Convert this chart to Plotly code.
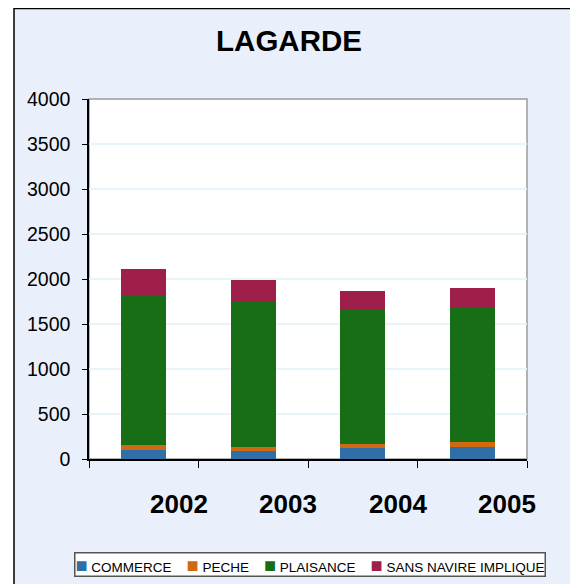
import plotly.graph_objects as go

# values
years = ["2002", "2003", "2004", "2005"]
commerce = [100, 90, 120, 130]
peche = [55, 45, 50, 60]
plaisance = [1667, 1620, 1485, 1490]
sans_navire = [289, 235, 210, 225]
y_ticks = [0, 500, 1000, 1500, 2000, 2500, 3000, 3500, 4000]

series = [
    ("COMMERCE", commerce, "#2f6ea6"),
    ("PECHE", peche, "#cf6a12"),
    ("PLAISANCE", plaisance, "#176e17"),
    ("SANS NAVIRE IMPLIQUE", sans_navire, "#9f1f4b"),
]

fig = go.Figure()
for name, vals, col in series:
    fig.add_trace(go.Bar(x=years, y=vals, name=name, width=0.41, showlegend=False,
                         marker=dict(color=col, line=dict(width=0))))

# x labels sit to the right of each bar in the original
for i, yr in enumerate(years):
    fig.add_annotation(x=i, y=-0.125, xref="x", yref="paper", text="<b>%s</b>" % yr,
                       showarrow=False, xshift=35, yanchor="middle",
                       font=dict(size=26, color="black"))

# boxed legend on one line, like the original
legend_txt = "&nbsp;&nbsp;&nbsp;&nbsp;".join(
    '<span style="color:%s;font-size:20px">■</span>&nbsp;%s' % (col, name)
    for name, vals, col in series)
fig.add_annotation(x=0.5046, y=-0.2944, xref="paper", yref="paper", text=legend_txt,
                   showarrow=False, xanchor="center", yanchor="middle",
                   bgcolor="white", bordercolor="#555555", borderwidth=1.5, borderpad=0,
                   font=dict(size=13.5, color="black"))

# outer light-blue frame and white plot area
fig.add_shape(type="rect", xref="paper", yref="paper", x0=-0.1712, x1=1.2, y0=-0.4, y1=1.2514,
              fillcolor="#e9f0fc", line=dict(color="black", width=1.5), layer="below")
fig.add_shape(type="rect", xref="paper", yref="paper", x0=0, x1=1, y0=0, y1=1,
              fillcolor="white", line=dict(color="#9a9a9a", width=1.5), layer="below")

fig.update_layout(
    width=570, height=576,
    margin=dict(l=81, r=51, t=91, b=125, autoexpand=False),
    barmode="stack",
    paper_bgcolor="white", plot_bgcolor="white",
    font=dict(family="Arial, Liberation Sans, sans-serif", color="black"),
    title=dict(text="<b>LAGARDE</b>", x=0.493, xref="container", y=0.944, yanchor="middle",
               xanchor="center", font=dict(size=29.5, color="black")),
    showlegend=False,
)
fig.update_xaxes(type="category", categoryorder="array", categoryarray=years,
                 range=[-0.5, 3.5], showline=True, linecolor="black", linewidth=1.5,
                 tickson="boundaries", ticks="outside", ticklen=7, tickcolor="black",
                 showticklabels=False, showgrid=False)
fig.update_yaxes(range=[0, 4000], tickvals=y_ticks, showline=True, linecolor="black",
                 linewidth=1.5, ticks="outside", ticklen=5, tickcolor="black",
                 gridcolor="#e8f3fa", gridwidth=1.5, zeroline=False,
                 ticklabelstandoff=8, tickfont=dict(size=19.5))

fig.write_html("out.html")
